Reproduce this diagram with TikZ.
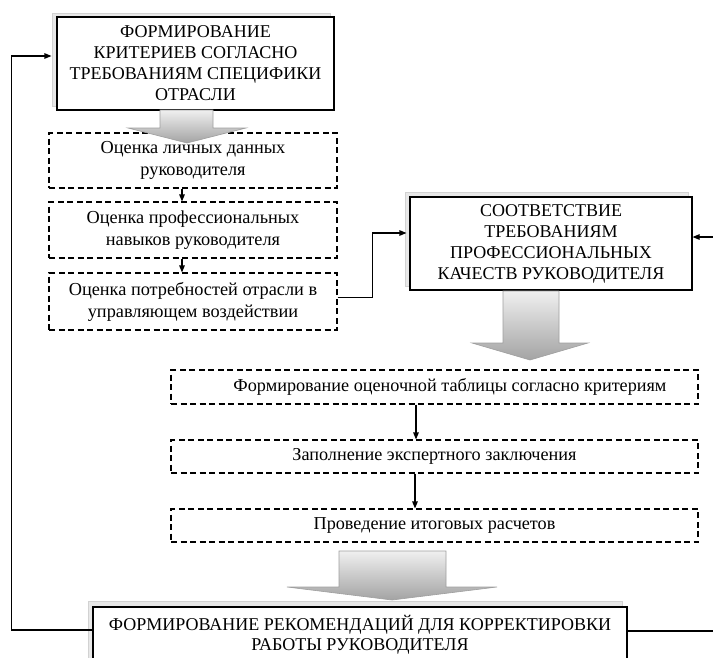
\documentclass[tikz,border=0pt]{standalone}
\usepackage{fontspec}
\setmainfont{Liberation Serif}
\usetikzlibrary{arrows.meta}
\begin{document}
\begin{tikzpicture}[x=1pt,y=-1pt,
  solidbox/.style={draw=black, line width=1.1pt, fill=white, align=center, inner sep=0pt,
    font=\fontsize{18}{21}\selectfont},
  dashbox/.style={draw=black, line width=1.1pt, dash pattern=on 6pt off 3.5pt, fill=white,
    align=center, inner sep=0pt, font=\fontsize{18.3}{22}\selectfont},
  rowbox/.style={dashbox, minimum width=527pt, font=\fontsize{18.2}{20}\selectfont},
  conn/.style={line width=1.1pt, -{Triangle[length=7pt,width=5.5pt]}},
  blockarrow/.style={top color=gray!12, bottom color=gray!72, draw=gray!75, line width=0.6pt},
  shadowbox/.style={fill=gray!18, draw=gray!35, line width=0.5pt}
]
\useasboundingbox (0,0) rectangle (713,657);

% top box
\filldraw[shadowbox] (52,13) rectangle (330,106);
\node[solidbox, minimum width=277pt, minimum height=93pt] (crit) at (195.5,63.5)
  {ФОРМИРОВАНИЕ\\КРИТЕРИЕВ СОГЛАСНО\\ТРЕБОВАНИЯМ СПЕЦИФИКИ\\ОТРАСЛИ};

% left dashed column
\node[dashbox, minimum width=288pt, minimum height=55pt] (b1) at (193,160.5)
  {Оценка личных данных\\руководителя};
\node[dashbox, minimum width=288pt, minimum height=56pt] (b2) at (193,230)
  {Оценка профессиональных\\навыков руководителя};
\node[dashbox, minimum width=288pt, minimum height=57pt] (b3) at (193,301.5)
  {Оценка потребностей отрасли в\\управляющем воздействии};

\shade[blockarrow] (160,110) -- (213,110) -- (213,128) -- (246,128) -- (187,143)
  -- (128,128) -- (160,128) -- cycle;

\draw[conn] ([xshift=-11pt]b1.south) -- ([xshift=-11pt]b2.north);
\draw[conn] ([xshift=-11pt]b2.south) -- ([xshift=-11pt]b3.north);

% right solid box
\filldraw[shadowbox] (405,192) rectangle (688,286);
\node[solidbox, minimum width=282pt, minimum height=93pt] (soot) at (551,243.5)
  {СООТВЕТСТВИЕ\\ТРЕБОВАНИЯМ\\ПРОФЕССИОНАЛЬНЫХ\\КАЧЕСТВ РУКОВОДИТЕЛЯ};

\draw[conn] ([yshift=4pt]b3.east) -- ++(35,0) |- ([xshift=-3pt,yshift=10.5pt]soot.west);

\shade[blockarrow] (503,291) -- (559,291) -- (559,343) -- (588,343) -- (530,360)
  -- (472,343) -- (503,343) -- cycle;

% lower dashed rows
\node[rowbox, minimum height=34pt] (r1) at (434.5,387)
  {\hspace*{31pt}Формирование оценочной таблицы согласно критериям};
\node[rowbox, minimum height=33pt] (r2) at (434.5,456.5)
  {Заполнение экспертного заключения};
\node[rowbox, minimum height=33pt] (r3) at (434.5,525.5)
  {Проведение итоговых расчетов};

\draw[conn] ([xshift=-18.5pt]r1.south) -- ([xshift=-18.5pt]r2.north);
\draw[conn] ([xshift=-19.5pt]r2.south) -- ([xshift=-19.5pt]r3.north);

\shade[blockarrow] (339,551) -- (446,551) -- (446,587) -- (497,587) -- (392,600)
  -- (287,587) -- (339,587) -- cycle;

% bottom box
\filldraw[shadowbox] (88,601) rectangle (622,662);
\node[solidbox, minimum width=534pt, minimum height=56pt, font=\fontsize{18}{20}\selectfont]
  (rec) at (360,635)
  {ФОРМИРОВАНИЕ РЕКОМЕНДАЦИЙ ДЛЯ КОРРЕКТИРОВКИ\\РАБОТЫ РУКОВОДИТЕЛЯ};

% feedback loops
\draw[conn] ([yshift=5pt]rec.west) -- ++(-81,0) |- ([xshift=-5pt,yshift=7.5pt]crit.west);
\draw[conn] ([yshift=4pt]rec.east) -- ++(95,0) |- ([yshift=6.5pt]soot.east);
\end{tikzpicture}
\end{document}
